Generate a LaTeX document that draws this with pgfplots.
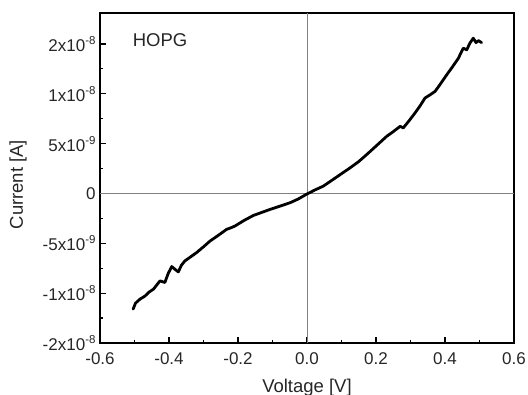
\documentclass[border=0pt]{standalone}
\usepackage{fontspec}
\setmainfont{Liberation Sans}
\usepackage{pgfplots}
\pgfplotsset{compat=1.18}
\newcommand{\ex}[1]{\raisebox{7bp}{\fontsize{11.5bp}{12bp}\selectfont #1}}
\begin{document}
\begin{tikzpicture}
\useasboundingbox (-100bp,-52bp) rectangle (428bp,343bp);
\begin{axis}[
  at={(0,0)}, anchor=south west,
  scale only axis, width=414bp, height=330bp,
  xmin=-0.6, xmax=0.6, ymin=-1.5, ymax=1.81,
  axis line style={line width=1.6bp},
  tick style={black, line width=1.2bp},
  major tick length=6bp, minor tick length=3.5bp,
  tick align=inside,
  xtick pos=bottom, ytick pos=left,
  xtick={-0.6,-0.4,-0.2,0,0.2,0.4,0.6},
  xticklabels={-0.6,-0.4,-0.2,0.0,0.2,0.4,0.6},
  ytick={-1.5,-1,-0.5,0,0.5,1,1.5},
  yticklabels={-2x10\ex{-8},-1x10\ex{-8},-5x10\ex{-9},0,5x10\ex{-9},1x10\ex{-8},2x10\ex{-8}},
  minor x tick num=1, minor y tick num=1,
  tick label style={font=\fontsize{17bp}{19bp}\selectfont, text=black!85},
  xticklabel style={yshift=-6bp},
  yticklabel style={xshift=-1bp},
  xlabel={Voltage [V]}, ylabel={Current [A]},
  label style={font=\fontsize{18.5bp}{20bp}\selectfont, text=black!85},
  xlabel style={at={(axis description cs:0.5,-0.135)}, anchor=center},
  ylabel style={at={(axis description cs:-0.198,0.48)}, anchor=center},
  clip=false,
]
\draw[gray, line width=0.9bp] (axis cs:0,-1.5) -- (axis cs:0,1.81);
\draw[gray, line width=0.9bp] (axis cs:-0.6,0) -- (axis cs:0.6,0);
\addplot[black, line width=2.8bp, line join=round, line cap=round] coordinates {
(-0.504,-1.16) (-0.497,-1.10) (-0.484,-1.06) (-0.470,-1.03) (-0.458,-0.99)
(-0.445,-0.96) (-0.436,-0.92) (-0.426,-0.877) (-0.419,-0.885) (-0.412,-0.893)
(-0.402,-0.80) (-0.392,-0.733) (-0.383,-0.76) (-0.373,-0.787) (-0.364,-0.72)
(-0.354,-0.677) (-0.337,-0.635) (-0.320,-0.593) (-0.300,-0.535) (-0.281,-0.477)
(-0.257,-0.42) (-0.233,-0.36) (-0.221,-0.345) (-0.209,-0.327) (-0.182,-0.27)
(-0.155,-0.22) (-0.131,-0.19) (-0.107,-0.16) (-0.078,-0.127) (-0.049,-0.093)
(-0.025,-0.055) (0.000,-0.005) (0.023,0.035) (0.047,0.073) (0.067,0.12)
(0.086,0.165) (0.105,0.21) (0.125,0.257) (0.150,0.32) (0.173,0.39)
(0.200,0.475) (0.231,0.573) (0.250,0.62) (0.270,0.673) (0.279,0.657)
(0.296,0.73) (0.313,0.807) (0.328,0.88) (0.342,0.957) (0.357,0.99)
(0.371,1.023) (0.383,1.08) (0.395,1.14) (0.407,1.20) (0.419,1.257)
(0.429,1.307) (0.439,1.357) (0.446,1.41) (0.453,1.457) (0.463,1.44)
(0.472,1.507) (0.482,1.557) (0.490,1.513) (0.497,1.533) (0.506,1.513)
};
\node[anchor=west, font=\fontsize{18.5bp}{20bp}\selectfont, text=black!85] at (axis cs:-0.515,1.54) {HOPG};
\end{axis}
\end{tikzpicture}
\end{document}
